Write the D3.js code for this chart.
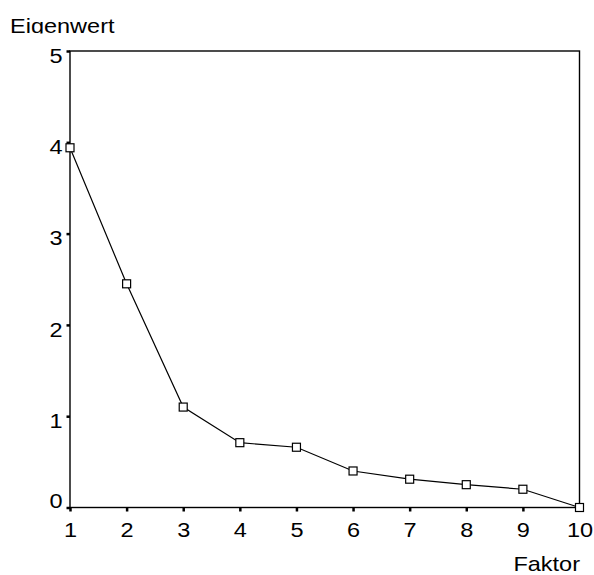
<!DOCTYPE html>
<html>
<head>
<meta charset="utf-8">
<script src="https://cdn.jsdelivr.net/npm/d3@7"></script>
<style>
  body { margin: 0; background: #fff; }
  svg { display: block; }
  text { font-family: "Liberation Sans", Arial, sans-serif; font-size: 21px; fill: #000; }
</style>
</head>
<body>
<svg id="chart" width="594" height="575"></svg>
<script>
// Scree plot data
const factors = [1, 2, 3, 4, 5, 6, 7, 8, 9, 10];
const eigenvalues = [3.94, 2.45, 1.10, 0.71, 0.66, 0.40, 0.31, 0.25, 0.20, 0.0];
const yTicks = [0, 1, 2, 3, 4, 5];
const yLabel = 'Eigenwert';
const xLabel = 'Faktor';

const PLOT = { LEFT: 70, RIGHT: 579.5, TOP: 51, BOTTOM: 507.5 };
const STRETCH = 1.12; // original lettering is a bit wider than Arial

const svg = d3.select('#chart');

const xScale = d3.scaleLinear()
  .domain([1, 10])
  .range([PLOT.LEFT, PLOT.RIGHT]);
const yScale = d3.scaleLinear()
  .domain([0, 5])
  .range([PLOT.BOTTOM, PLOT.TOP]);

// Frame
svg.append('rect')
  .attr('x', PLOT.LEFT)
  .attr('y', PLOT.TOP)
  .attr('width', PLOT.RIGHT - PLOT.LEFT)
  .attr('height', PLOT.BOTTOM - PLOT.TOP)
  .attr('fill', 'none')
  .attr('stroke', '#000')
  .attr('stroke-width', 1.4);

// Axes
const bottomAxis = d3.axisBottom(xScale).tickValues(factors).tickSize(4).tickFormat(d3.format('d'));
const xAxis = svg.append('g')
  .attr('class', 'x-axis')
  .attr('transform', `translate(0,${PLOT.BOTTOM})`)
  .call(bottomAxis);

const leftAxis = d3.axisLeft(yScale).tickValues(yTicks).tickSize(3.5).tickFormat(d3.format('d'));
const yAxis = svg.append('g')
  .attr('class', 'y-axis')
  .attr('transform', `translate(${PLOT.LEFT},0)`)
  .call(leftAxis);

svg.selectAll('.domain').remove();
svg.selectAll('.tick line')
  .attr('stroke', '#000')
  .attr('stroke-width', 2.5);
svg.selectAll('.tick text')
  .attr('font-size', null)
  .attr('font-family', null);
xAxis.selectAll('.tick text')
  .attr('y', 15)
  .attr('transform', `scale(${STRETCH},1)`);
yAxis.selectAll('.tick text')
  .attr('x', -7.5 / STRETCH)
  .attr('dy', d => (d === 0 ? '0' : '0.53em'))
  .attr('transform', `scale(${STRETCH},1)`);

// Line
const line = d3.line()
  .x((d, i) => xScale(factors[i]))
  .y(d => yScale(d));

svg.append('path')
  .datum(eigenvalues)
  .attr('fill', 'none')
  .attr('stroke', '#000')
  .attr('stroke-width', 1.2);

svg.select('path').attr('d', line);

// Square markers
const SIZE = 8;
svg.append('g')
  .selectAll('rect')
  .data(eigenvalues)
  .enter()
  .append('rect')
  .attr('x', (d, i) => xScale(factors[i]) - SIZE / 2)
  .attr('y', d => yScale(d) - SIZE / 2)
  .attr('width', SIZE)
  .attr('height', SIZE)
  .attr('fill', '#fff')
  .attr('stroke', '#000')
  .attr('stroke-width', 1.2);

// Axis titles (y-title descender is cut off in the original)
svg.append('clipPath')
  .attr('id', 'ytitle-clip')
  .append('rect')
  .attr('x', 0)
  .attr('y', 0)
  .attr('width', 200)
  .attr('height', 33.5);

svg.append('g')
  .attr('clip-path', 'url(#ytitle-clip)')
  .append('text')
  .attr('transform', `translate(10,32.5) scale(${STRETCH},1)`)
  .text(yLabel);

svg.append('text')
  .attr('transform', `translate(580,571) scale(${STRETCH},1)`)
  .attr('text-anchor', 'end')
  .text(xLabel);
</script>
</body>
</html>
